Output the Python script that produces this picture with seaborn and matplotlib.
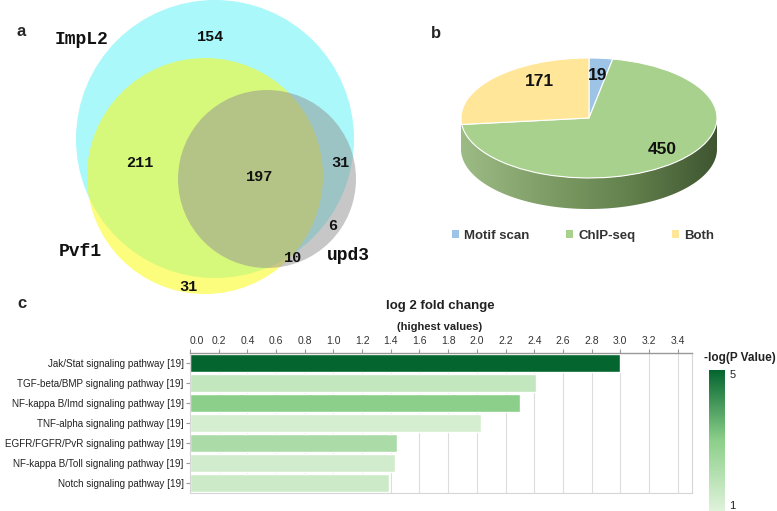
import numpy as np
import pandas as pd
import matplotlib
matplotlib.use("Agg")
import matplotlib.pyplot as plt
import seaborn as sns
from matplotlib.patches import Circle, Polygon, Patch
from matplotlib.colors import LinearSegmentedColormap, Normalize
from matplotlib.cm import ScalarMappable

# ---------------- data ----------------
venn_sets = ["ImpL2", "Pvf1", "upd3"]
venn_region_names = ["ImpL2 only", "ImpL2&Pvf1", "all", "ImpL2&upd3", "upd3 only", "Pvf1&upd3", "Pvf1 only"]
venn_region_counts = [154, 211, 197, 31, 6, 10, 31]

pie_labels = ["Motif scan", "ChIP-seq", "Both"]
pie_values = [19, 450, 171]
pie_colors = ["#9dc3e6", "#a9d18e", "#ffe699"]

pathways = [
    "Jak/Stat signaling pathway [19]",
    "TGF-beta/BMP signaling pathway [19]",
    "NF-kappa B/Imd signaling pathway [19]",
    "TNF-alpha signaling pathway [19]",
    "EGFR/FGFR/PvR signaling pathway [19]",
    "NF-kappa B/Toll signaling pathway [19]",
    "Notch signaling pathway [19]",
]
log2fc = [3.00, 2.41, 2.30, 2.03, 1.44, 1.43, 1.39]
neglogp = [5.0, 1.7, 3.0, 1.25, 2.25, 1.35, 1.45]
xticks_vals = [0.0, 0.2, 0.4, 0.6, 0.8, 1.0, 1.2, 1.4, 1.6, 1.8, 2.0, 2.2, 2.4, 2.6, 2.8, 3.0, 3.2, 3.4]

# ---------------- style ----------------
sns.set_style("white")
plt.rcParams["font.family"] = ["Liberation Sans", "DejaVu Sans"]

W, H = 777, 511
fig = plt.figure(figsize=(W / 100, H / 100), dpi=100)


def fx(px):
    return px / W


def fy(py):
    return 1 - py / H


def T(x, y, s, **kw):
    kw.setdefault("ha", "center")
    kw.setdefault("va", "center")
    fig.text(fx(x), fy(y), s, **kw)


# ---------------- panel a: Venn ----------------
axv = fig.add_axes([0, fy(300), 420 / W, 300 / H])
axv.set_xlim(0, 420)
axv.set_ylim(300, 0)
axv.axis("off")
circle_layout = {
    "ImpL2": dict(c=(215, 139), r=139, fc="#aaf8fa", a=1.0),
    "Pvf1": dict(c=(205, 176), r=118, fc="#fafa19", a=0.565),
    "upd3": dict(c=(267, 179), r=89, fc="#919191", a=0.5),
}
for i, name in enumerate(venn_sets):
    L = circle_layout[name]
    axv.add_patch(Circle(L["c"], L["r"], facecolor=L["fc"], alpha=L["a"], edgecolor="none", zorder=i + 1))

mono = dict(family="Liberation Mono", fontweight="bold", color="#111111")
set_label_pos = [(82, 40), (80, 251), (348, 255)]
for name, (x, y) in zip(venn_sets, set_label_pos):
    T(x, y, name, fontsize=13, **mono)
region_pos = [(211, 37), (140, 163), (260, 177), (340, 163), (333, 226), (293, 258), (188, 287)]
for cnt, (x, y) in zip(venn_region_counts, region_pos):
    T(x, y, str(cnt), fontsize=11, **mono)

T(21, 32, "a", fontsize=12, fontweight="bold")
T(436, 33, "b", fontsize=12, fontweight="bold")
T(22, 303, "c", fontsize=12, fontweight="bold")

# ---------------- panel b: pie ----------------
cx, cy, a_px, b_px, depth_px = 589, 118, 128, 60, 31
m = 1.05
d = depth_px / b_px
ylo = -1 - d - 0.05
axp = fig.add_axes([fx(cx - a_px * m), fy(cy + b_px * (-ylo)), 2 * a_px * m / W, b_px * (m - ylo) / H])
side_cmap = LinearSegmentedColormap.from_list("side", ["#9dbb85", "#7f9d66", "#62804c", "#3f5531"])
t = np.linspace(np.pi, 2 * np.pi, 300)
xs, ys = np.cos(t), np.sin(t)
verts = list(zip(xs, ys)) + list(zip(xs[::-1], ys[::-1] - d))
side = Polygon(verts, closed=True, facecolor="none", edgecolor="none")
axp.add_patch(side)
grad = np.linspace(0, 1, 256).reshape(1, -1)
im = axp.imshow(grad, extent=(-1, 1, -1 - d, 0), cmap=side_cmap, aspect="auto", zorder=0)
im.set_clip_path(side)
wedges, _ = axp.pie(pie_values, colors=pie_colors, startangle=90, counterclock=False,
                    wedgeprops=dict(edgecolor="white", linewidth=0.8))
axp.set_aspect("auto")
axp.set_xlim(-m, m)
axp.set_ylim(ylo, m)
axp.axis("off")

pie_label_pos = [(598, 75), (662, 150), (539, 82)]
for v, (x, y) in zip(pie_values, pie_label_pos):
    T(x, y, str(v), fontsize=12.5, fontweight="bold", color="#111111")

handles = [Patch(facecolor=c, edgecolor="none") for c in pie_colors]
fig.legend(handles, pie_labels, loc="center", bbox_to_anchor=(fx(583), fy(236)), ncol=3, frameon=False,
           prop=dict(size=9.5, weight="bold"), labelcolor="#333333",
           handlelength=0.55, handleheight=0.55, handletextpad=0.35, columnspacing=2.8)

# ---------------- panel c: bars ----------------
cmap = LinearSegmentedColormap.from_list("pv", ["#dff2da", "#8ccf8a", "#04652f"])
norm = Normalize(1, 5)
bar_colors = [cmap(norm(v)) for v in neglogp]
df = pd.DataFrame({"pathway": pathways, "log2fc": log2fc})

axb = fig.add_axes([fx(190), fy(493), (692 - 190) / W, (493 - 353) / H])
sns.barplot(data=df, x="log2fc", y="pathway", hue="pathway", palette=bar_colors, legend=False,
            width=0.88, saturation=1, ax=axb, zorder=2)
axb.set_xlim(0, 3.5)
axb.set_ylim(6.5, -0.5)
axb.set_xlabel("")
axb.set_ylabel("")
axb.xaxis.tick_top()
axb.set_xticks(xticks_vals)
axb.set_xticklabels([f"{v:.1f}" for v in xticks_vals], fontsize=7.5, color="#333333")
axb.get_xticklabels()[0].set_ha("left")
axb.tick_params(axis="x", which="both", top=True, bottom=False, length=3, width=0.8, color="#999999", pad=2)
axb.tick_params(axis="y", left=True, length=3, width=0.8, color="#999999", pad=1.5)
for lab in axb.get_yticklabels():
    lab.set_fontsize(7.1)
    lab.set_color("#222222")
axb.grid(axis="x", color="#dddddd", linewidth=0.8, zorder=0)
axb.grid(axis="y", visible=False)
axb.set_axisbelow(True)
for s in ["right", "bottom", "left"]:
    axb.spines[s].set_color("#d6d6d6")
    axb.spines[s].set_linewidth(0.8)
axb.spines["top"].set_color("#999999")
axb.spines["top"].set_linewidth(1.0)

T(440, 306, "log 2 fold change", fontsize=9.5, fontweight="bold", color="#222222")
T(440, 327, "(highest values)", fontsize=8, fontweight="bold", color="#222222")

# colorbar
cax = fig.add_axes([fx(709), 0, 16 / W, (511 - 370) / H])
cb = fig.colorbar(ScalarMappable(norm=norm, cmap=cmap), cax=cax, ticks=[1, 5])
cb.outline.set_visible(False)
cax.tick_params(length=0, pad=3, labelsize=8, labelcolor="#222222")
for lab in cax.get_yticklabels():
    if lab.get_text() == "5":
        lab.set_va("top")
    else:
        lab.set_va("bottom")
T(740, 358, "-log(P Value)", fontsize=8.5, fontweight="bold", color="#222222")

fig.savefig("out.png", dpi=100)
